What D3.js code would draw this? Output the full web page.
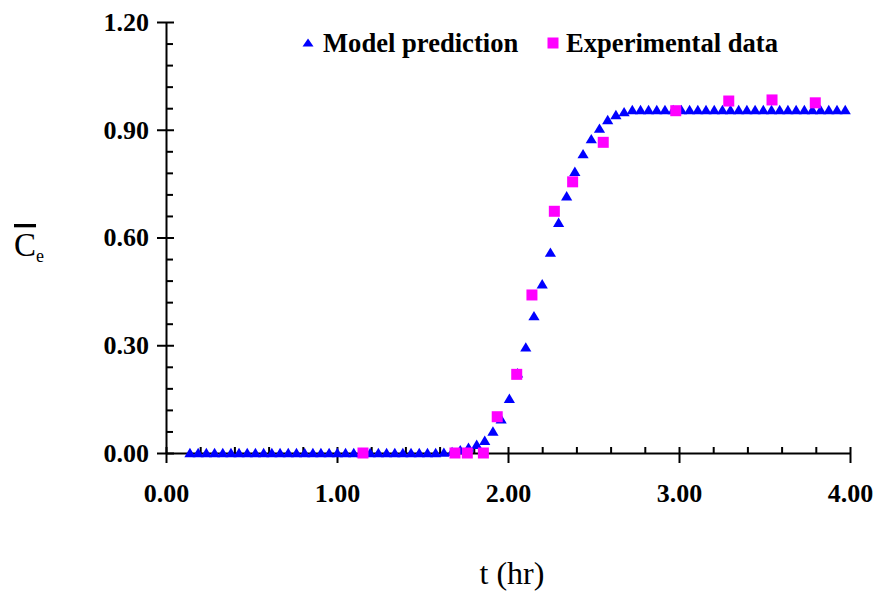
<!DOCTYPE html>
<html>
<head>
<meta charset="utf-8">
<script src="https://cdn.jsdelivr.net/npm/d3@7"></script>
<style>
  html, body { margin: 0; padding: 0; background: #fff; }
  svg { display: block; }
  text { font-family: "Liberation Serif", "Times New Roman", serif; fill: #000; }
</style>
</head>
<body>
<svg id="chart" width="881" height="592"></svg>
<script>
// ---- data ----
const modelT = [0.140,0.188,0.236,0.284,0.332,0.380,0.427,0.475,0.523,0.571,
  0.619,0.667,0.715,0.763,0.811,0.859,0.906,0.954,1.002,1.050,
  1.098,1.146,1.194,1.242,1.290,1.338,1.385,1.433,1.481,1.529,
  1.577,1.625,1.673,1.721,1.769,1.817,1.864,1.912,1.960,2.008,
  2.056,2.104,2.152,2.200,2.248,2.296,2.343,2.391,2.439,2.487,
  2.535,2.583,2.631,2.679,2.727,2.775,2.822,2.870,2.918,2.966,
  3.014,3.062,3.110,3.158,3.206,3.254,3.301,3.349,3.397,3.445,
  3.493,3.541,3.589,3.637,3.685,3.733,3.780,3.828,3.876,3.924,3.972];
const modelC = [0,0,0,0,0,0,0,0,0,0,
  0,0,0,0,0,0,0,0,0,0,
  0,0,0,0,0,0,0,0,0,0,
  0,0.001,0.003,0.008,0.015,0.023,0.034,0.060,0.094,0.151,
  0.222,0.294,0.381,0.470,0.558,0.641,0.715,0.783,0.832,0.874,
  0.903,0.927,0.941,0.949,0.955,0.955,0.955,0.955,0.955,0.955,
  0.955,0.955,0.955,0.955,0.955,0.955,0.955,0.955,0.955,0.955,
  0.955,0.955,0.955,0.955,0.955,0.955,0.955,0.955,0.955,0.955,0.955];
const expT = [1.152,1.690,1.762,1.856,1.937,2.051,2.140,2.271,2.378,2.557,2.981,3.291,3.544,3.797];
const expC = [0,0,0,0,0.101,0.219,0.440,0.673,0.755,0.865,0.953,0.980,0.983,0.975];
const xTicks = [0,1,2,3,4];
const xMinor = [0.2,0.4,0.6,0.8,1.2,1.4,1.6,1.8,2.2,2.4,2.6,2.8,3.2,3.4,3.6,3.8];
const yTicks = [0,0.3,0.6,0.9,1.2];
const yMinor = [0.06,0.12,0.18,0.24,0.36,0.42,0.48,0.54,0.66,0.72,0.78,0.84,0.96,1.02,1.08,1.14];
const seriesNames = ["Model prediction", "Experimental data"];
const colors = ["#0000ff", "#ff00ff"];

// ---- drawing ----
const svg = d3.select("#chart");
const x = d3.scaleLinear().domain([0, 4]).range([166, 850]);
const y = d3.scaleLinear().domain([0, 1.2]).range([453, 22]);
const fmt = d3.format(".2f");
const tri = "M0,-5.2L5.6,4.2L-5.6,4.2Z";

// Y axis
const gy = svg.append("g").attr("transform", `translate(${x(0)},0)`);
gy.call(d3.axisLeft(y).tickValues(yTicks).tickFormat(fmt).tickSizeInner(9).tickSizeOuter(0).tickPadding(8));
gy.select(".domain").attr("stroke-width", 2);
gy.selectAll(".tick line").attr("x1", 8).attr("stroke-width", 2);
gy.selectAll(".tick text").attr("font-size", 26).attr("font-weight", "bold")
  .attr("font-family", "'Liberation Serif','Times New Roman',serif");
const gy2 = svg.append("g").attr("transform", `translate(${x(0)},0)`);
gy2.call(d3.axisRight(y).tickValues(yMinor).tickFormat("").tickSize(7).tickSizeOuter(0));
gy2.select(".domain").remove();
gy2.selectAll(".tick line").attr("stroke-width", 2);

// X axis
const gx = svg.append("g").attr("transform", `translate(0,${y(0)})`);
gx.call(d3.axisBottom(x).tickValues(xTicks).tickFormat(fmt).tickSizeInner(10).tickSizeOuter(0));
gx.select(".domain").attr("stroke-width", 2);
gx.selectAll(".tick line").attr("y1", -6).attr("stroke-width", 2);
gx.selectAll(".tick text").attr("font-size", 26).attr("font-weight", "bold")
  .attr("font-family", "'Liberation Serif','Times New Roman',serif")
  .attr("y", 49).attr("dy", 0);
const gx2 = svg.append("g").attr("transform", `translate(0,${y(0)})`);
gx2.call(d3.axisTop(x).tickValues(xMinor).tickFormat("").tickSize(6).tickSizeOuter(0));
gx2.select(".domain").remove();
gx2.selectAll(".tick line").attr("stroke-width", 2);

// Model prediction triangles
svg.append("g").selectAll("path").data(modelT).join("path")
  .attr("d", tri)
  .attr("transform", (d, i) => `translate(${x(d)},${y(modelC[i])})`)
  .attr("fill", colors[0]);

// Experimental squares
svg.append("g").selectAll("rect").data(expT).join("rect")
  .attr("x", d => x(d) - 5.5)
  .attr("y", (d, i) => y(expC[i]) - 5.5)
  .attr("width", 11).attr("height", 11)
  .attr("fill", colors[1]);

// Legend
const lg = svg.append("g");
lg.append("path").attr("d", "M0,-4.5L5.5,3.5L-5.5,3.5Z").attr("transform", "translate(308,43)").attr("fill", colors[0]);
lg.append("text").attr("x", 323).attr("y", 51.5).attr("font-size", 26.6).attr("font-weight", "bold").text(seriesNames[0]);
lg.append("rect").attr("x", 547.5).attr("y", 37.5).attr("width", 11).attr("height", 11).attr("fill", colors[1]);
lg.append("text").attr("x", 566).attr("y", 51.5).attr("font-size", 26.6).attr("font-weight", "bold").text(seriesNames[1]);

// Axis titles
svg.append("text").attr("x", 512).attr("y", 584).attr("text-anchor", "middle")
  .attr("font-size", 32).text("t (hr)");
const yl = svg.append("text").attr("x", 14).attr("y", 256).attr("font-size", 33);
yl.append("tspan").attr("text-decoration", "overline").style("text-decoration", "overline").text("C");
yl.append("tspan").attr("font-size", 18).attr("dy", 6).text("e");
</script>
</body>
</html>
